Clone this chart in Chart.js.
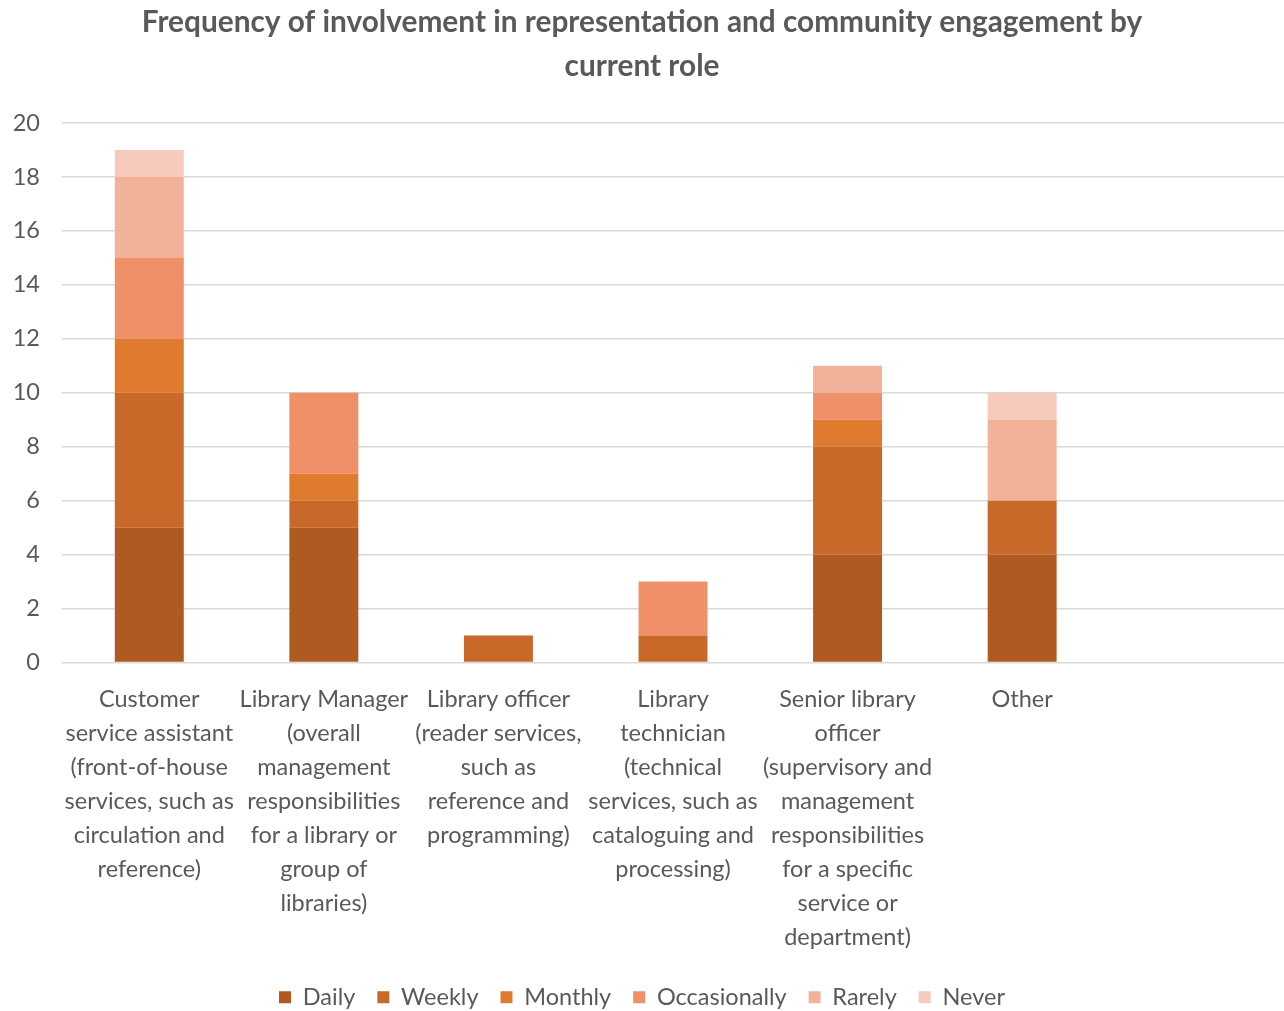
<!DOCTYPE html>
<html><head><meta charset="utf-8">
<script src="https://cdn.jsdelivr.net/npm/chart.js@4/dist/chart.umd.min.js"></script>
<style>html,body{margin:0;padding:0;background:#fff}#wrap{width:1284px;height:1011px}</style>
</head><body><div id="wrap"><canvas id="c" width="1284" height="1011"></canvas></div>
<script>
const categories = [
  ["Customer","service assistant","(front-of-house","services, such as","circulation and","reference)"],
  ["Library Manager","(overall","management","responsibilities","for a library or","group of","libraries)"],
  ["Library officer","(reader services,","such as","reference and","programming)"],
  ["Library","technician","(technical","services, such as","cataloguing and","processing)"],
  ["Senior library","officer","(supervisory and","management","responsibilities","for a specific","service or","department)"],
  ["Other"],
  [""]
];
const seriesNames = ["Daily","Weekly","Monthly","Occasionally","Rarely","Never"];
const daily        = [5, 5, 0, 0, 4, 4, null];
const weekly       = [5, 1, 1, 1, 4, 2, null];
const monthly      = [2, 1, 0, 0, 1, 0, null];
const occasionally = [3, 3, 0, 2, 1, 0, null];
const rarely       = [3, 0, 0, 0, 1, 3, null];
const never        = [1, 0, 0, 0, 0, 1, null];
const yTicks = [0,2,4,6,8,10,12,14,16,18,20];
const colors = ["#AE5A21","#C8692A","#E07A2F","#EF9068","#F2B29A","#F6CBBE"];
const values = [daily, weekly, monthly, occasionally, rarely, never];

const FONT = "Lato, 'Open Sans', sans-serif";
const GRAY = "#595959";

const shiftLegend = {
  id: 'shiftLegend',
  afterLayout(chart) {
    const lg = chart.legend;
    if (lg) { lg.top += 12; lg.bottom += 12; }
  }
};

new Chart(document.getElementById('c'), {
  type: 'bar',
  data: {
    labels: categories,
    datasets: seriesNames.map((n,i)=>({
      label: n,
      data: values[i].map(v => v === 0 ? null : v),
      backgroundColor: colors[i],
      borderWidth: 0,
      categoryPercentage: 0.395,
      barPercentage: 1
    }))
  },
  plugins: [shiftLegend],
  options: {
    responsive: false,
    animation: false,
    layout: { padding: { left: 0, right: 0, top: 0, bottom: 4 } },
    plugins: {
      title: {
        display: true,
        text: ["Frequency of involvement in representation and community engagement by","current role"],
        color: GRAY,
        font: { family: FONT, size: 29.8, weight: 'bold', lineHeight: 44/29.8 },
        padding: { top: 0, bottom: 35 }
      },
      legend: {
        position: 'bottom',
        labels: {
          color: GRAY,
          font: { family: FONT, size: 23.5 },
          boxWidth: 12, boxHeight: 12,
          padding: 22
        }
      },
      tooltip: { enabled: false }
    },
    scales: {
      x: {
        stacked: true,
        grid: { display: false },
        border: { display: false },
        afterFit: s => { s.height -= 15; },
        ticks: {
          color: GRAY,
          font: { family: FONT, size: 23.5, lineHeight: 34/23.5 },
          maxRotation: 0, minRotation: 0, autoSkip: false,
          padding: 12
        }
      },
      y: {
        stacked: true,
        min: 0, max: 20,
        afterBuildTicks: s => { s.ticks = yTicks.map(v => ({ value: v })); },
        afterFit: s => { s.width = 62; },
        grid: { color: '#D9D9D9', lineWidth: 1.5, drawTicks: false },
        border: { display: false },
        ticks: {
          color: GRAY,
          font: { family: FONT, size: 23.5 },
          padding: 22
        }
      }
    }
  }
});
</script></body></html>
